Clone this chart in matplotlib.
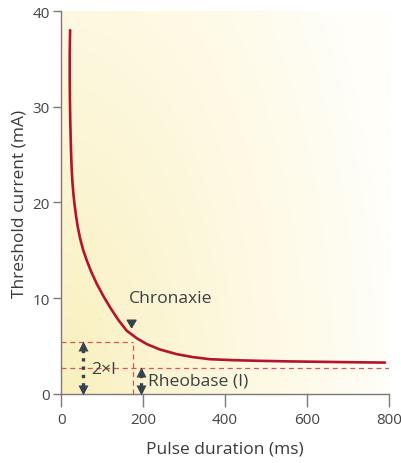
import numpy as np
import matplotlib.pyplot as plt
from matplotlib.colors import LinearSegmentedColormap

# Strength-duration curve (pulse duration in ms, threshold current in mA)
duration = [22, 21, 21, 21.6, 22.5, 24, 25.5, 27.5, 30, 33, 36.5, 40, 46,
            54, 63, 74, 87, 102, 120, 140, 160, 185, 209, 240, 282, 320,
            363, 420, 485, 560, 648, 720, 790]
current = [38.0, 35.5, 33.0, 30.5, 28.2, 25.6, 23.8, 22.2, 20.9, 19.7,
           18.6, 17.6, 16.3, 15.0, 13.9, 12.7, 11.5, 10.3, 9.0, 7.7, 6.6,
           5.8, 5.2, 4.65, 4.15, 3.85, 3.62, 3.52, 3.45, 3.39, 3.34, 3.30,
           3.27]

rheobase = 2.7
chronaxie = 176
xticks = [0, 200, 400, 600, 800]
yticks = [0, 10, 20, 30, 40]

plt.rcParams['font.family'] = ['Open Sans', 'DejaVu Sans']

fig = plt.figure(figsize=(4.02, 4.64), dpi=100)
ax = fig.add_axes([0.152, 0.149, 0.816, 0.825])
ax.set_xlim(0, 800)
ax.set_ylim(0, 40)

# warm background wash, strongest at the lower left
gx, gy = np.meshgrid(np.linspace(0, 1, 300), np.linspace(0, 1, 300))
d = np.sqrt(gx ** 2 + (gy * 0.55) ** 2)
cmap = LinearSegmentedColormap.from_list(
    'wash', ['#f9f0bd', '#fcf5d4', '#fefae6', '#fffef8'])
ax.imshow(d, cmap=cmap, extent=[0, 800, 0, 40], origin='lower',
          aspect='auto', zorder=0, vmin=0, vmax=1.0)

dash_col = '#d9535a'
dash = (0, (4, 3))
ax.plot([0, 800], [rheobase, rheobase], ls=dash, lw=0.9,
        color=dash_col, zorder=2)
ax.plot([0, chronaxie], [2 * rheobase, 2 * rheobase], ls=dash,
        lw=0.9, color=dash_col, zorder=2)
ax.plot([chronaxie, chronaxie], [0, 2 * rheobase], ls=dash,
        lw=0.9, color=dash_col, zorder=2)

ax.plot(duration, current, color='#b5132b', lw=1.9, solid_capstyle='round',
        solid_joinstyle='round', zorder=3)

arrow_col = '#34434f'


def double_arrow(x, y0, y1):
    ax.plot([x, x], [y0 + 0.8, y1 - 0.8], ls=(0, (1, 1.5)), lw=2.4,
            color=arrow_col, zorder=4)
    ax.plot([x], [y1 - 0.4], marker='^', ms=7, color=arrow_col,
            mec='none', zorder=4)
    ax.plot([x], [y0 + 0.4], marker='v', ms=7, color=arrow_col,
            mec='none', zorder=4)


double_arrow(53, 0, 2 * rheobase)
double_arrow(195, 0, rheobase)

ax.annotate('', xy=(172, 6.5), xytext=(172, 7.6),
            arrowprops=dict(arrowstyle='-|>,head_length=0.5,head_width=0.3',
                            color=arrow_col, lw=1.2), zorder=5)

txt_col = '#3a3f45'
ax.text(268, 10.06, 'Chronaxie', ha='center', va='center', fontsize=12.6,
        color=txt_col)
ax.text(74, 2.6, '2×I', ha='left', va='center', fontsize=12.6,
        color=txt_col)
ax.text(211, 1.36, 'Rheobase (I)', ha='left', va='center', fontsize=12.6,
        color=txt_col)

for s in ['top', 'right']:
    ax.spines[s].set_visible(False)
for s in ['left', 'bottom']:
    ax.spines[s].set_color('#7a7a7a')
    ax.spines[s].set_linewidth(1.0)

ax.set_xticks(xticks)
ax.set_yticks(yticks)
ax.tick_params(axis='x', direction='out', length=9, width=1.0,
               color='#7a7a7a', labelcolor='#444444', labelsize=11, pad=4)
ax.tick_params(axis='y', direction='out', length=6, width=1.0,
               color='#7a7a7a', labelcolor='#444444', labelsize=11, pad=2)

ax.set_xlabel('Pulse duration (ms)', fontsize=12.5, color='#3a3a3a',
              labelpad=10)
ax.set_ylabel('Threshold current (mA)', fontsize=12.5, color='#3a3a3a',
              labelpad=4)

fig.savefig('out.png', dpi=100)
